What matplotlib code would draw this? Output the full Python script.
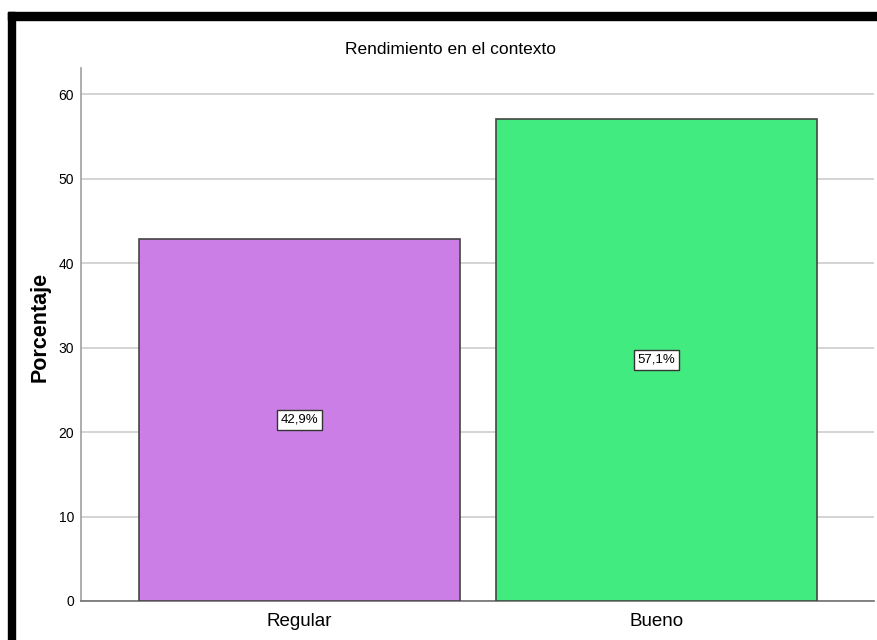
import matplotlib.pyplot as plt
from matplotlib.patches import Rectangle

categorias = ["Regular", "Bueno"]
porcentajes = [42.9, 57.1]
etiquetas = ["42,9%", "57,1%"]
colores = ["#CB7EE6", "#42EB80"]
yticks = [0, 10, 20, 30, 40, 50, 60]

plt.rcParams["font.family"] = ["Liberation Sans", "DejaVu Sans"]

W, H = 877, 640
fig = plt.figure(figsize=(W / 100, H / 100), dpi=100)
ax = fig.add_axes([81 / W, 1 - 601 / H, (874 - 81) / W, (601 - 68) / H])

x = list(range(len(categorias)))
ax.bar(x, porcentajes, width=0.9, color=colores, edgecolor="#444444",
       linewidth=1.2, zorder=3)

for xi, v, t in zip(x, porcentajes, etiquetas):
    ax.text(xi, v / 2, t, ha="center", va="center", fontsize=9.5, zorder=4,
            bbox=dict(boxstyle="square,pad=0.28", facecolor="white",
                      edgecolor="#333333", linewidth=1))

ax.set_xlim(-0.612, 1.609)
ax.set_ylim(0, 63.1)
ax.set_yticks(yticks)
ax.set_xticks(x)
ax.set_xticklabels(categorias, fontsize=13.5)
ax.tick_params(axis="y", length=0, pad=5, labelsize=10)
ax.tick_params(axis="x", length=0, pad=9)
ax.grid(True, axis="y", color="#D4D4D4", linewidth=1.4, zorder=0)

for lado in ["top", "right"]:
    ax.spines[lado].set_visible(False)
ax.spines["left"].set_color("#A0A0A0")
ax.spines["left"].set_linewidth(1.2)
ax.spines["bottom"].set_color("#707070")
ax.spines["bottom"].set_linewidth(1.2)

ax.set_ylabel("Porcentaje", fontsize=15.5, fontweight="bold")
ax.yaxis.set_label_coords(-0.0385, 274 / 533)
fig.text(450 / W, 1 - 50 / H, "Rendimiento en el contexto", ha="center",
         va="center", fontsize=12.5)

# marco negro superior e izquierdo
fig.patches.append(Rectangle((8 / W, 1 - 20 / H), 1, 8 / H, color="black",
                             transform=fig.transFigure, figure=fig))
fig.patches.append(Rectangle((8 / W, 0), 7 / W, 1 - 12 / H, color="black",
                             transform=fig.transFigure, figure=fig))

fig.savefig("out.png", dpi=100)
